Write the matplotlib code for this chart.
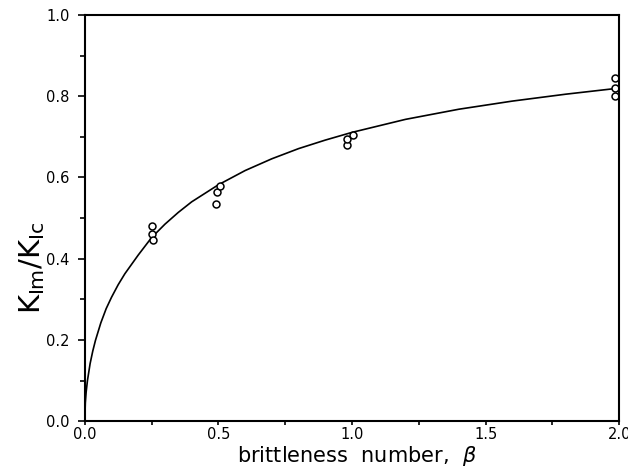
import matplotlib
matplotlib.use("Agg")
import matplotlib.pyplot as plt
from matplotlib.ticker import MultipleLocator

# measured points (beta, K_Im/K_Ic)
beta_pts = [0.25, 0.25, 0.255, 0.49, 0.495, 0.505, 0.98, 0.98, 1.005, 1.985, 1.985, 1.985]
ratio_pts = [0.48, 0.46, 0.445, 0.535, 0.565, 0.58, 0.68, 0.695, 0.705, 0.80, 0.82, 0.845]

# fitted curve
beta_curve = [0.0, 0.002, 0.005, 0.01, 0.02, 0.03, 0.04, 0.06, 0.08, 0.1, 0.125,
              0.15, 0.2, 0.25, 0.3, 0.35, 0.4, 0.5, 0.6, 0.7, 0.8, 0.9, 1.0,
              1.2, 1.4, 1.6, 1.8, 2.0]
ratio_curve = [0.0, 0.045, 0.071, 0.10, 0.142, 0.173, 0.199, 0.242, 0.277, 0.305, 0.336,
               0.363, 0.409, 0.452, 0.485, 0.514, 0.540, 0.582, 0.617, 0.646, 0.671, 0.692, 0.711,
               0.743, 0.768, 0.788, 0.805, 0.820]

fig = plt.figure(figsize=(6.28, 4.68), dpi=100)
ax = fig.add_axes([0.135, 0.1, 0.851, 0.868])

ax.plot(beta_curve, ratio_curve, color="black", lw=1.2)
ax.plot(beta_pts, ratio_pts, linestyle="none", marker="o", ms=5,
        mfc="white", mec="black", mew=1.1)

ax.set_xlim(0, 2.0)
ax.set_ylim(0, 1.0)
ax.xaxis.set_major_locator(MultipleLocator(0.5))
ax.xaxis.set_minor_locator(MultipleLocator(0.25))
ax.yaxis.set_major_locator(MultipleLocator(0.2))
ax.yaxis.set_minor_locator(MultipleLocator(0.1))
ax.xaxis.set_major_formatter(plt.FormatStrFormatter("%.1f"))
ax.yaxis.set_major_formatter(plt.FormatStrFormatter("%.1f"))

ax.tick_params(which="both", direction="out", top=False, right=False,
               width=1.2, labelsize=10.5)
ax.tick_params(axis="y", which="major", length=5, pad=6)
ax.tick_params(axis="y", which="minor", length=3.5)
ax.tick_params(axis="x", which="major", length=3, pad=1.5)
ax.tick_params(axis="x", which="minor", length=3)
for s in ax.spines.values():
    s.set_linewidth(1.5)

ax.set_xlabel(r"brittleness  number,  $\beta$", fontsize=15, labelpad=0)
ax.xaxis.set_label_coords(0.51, -0.055)
fig.text(32 / 628, 1 - 268 / 468, r"$\mathregular{K_{Im}/K_{Ic}}$", fontsize=21,
         rotation=90, ha="center", va="center")

fig.savefig("out.png", dpi=100)
